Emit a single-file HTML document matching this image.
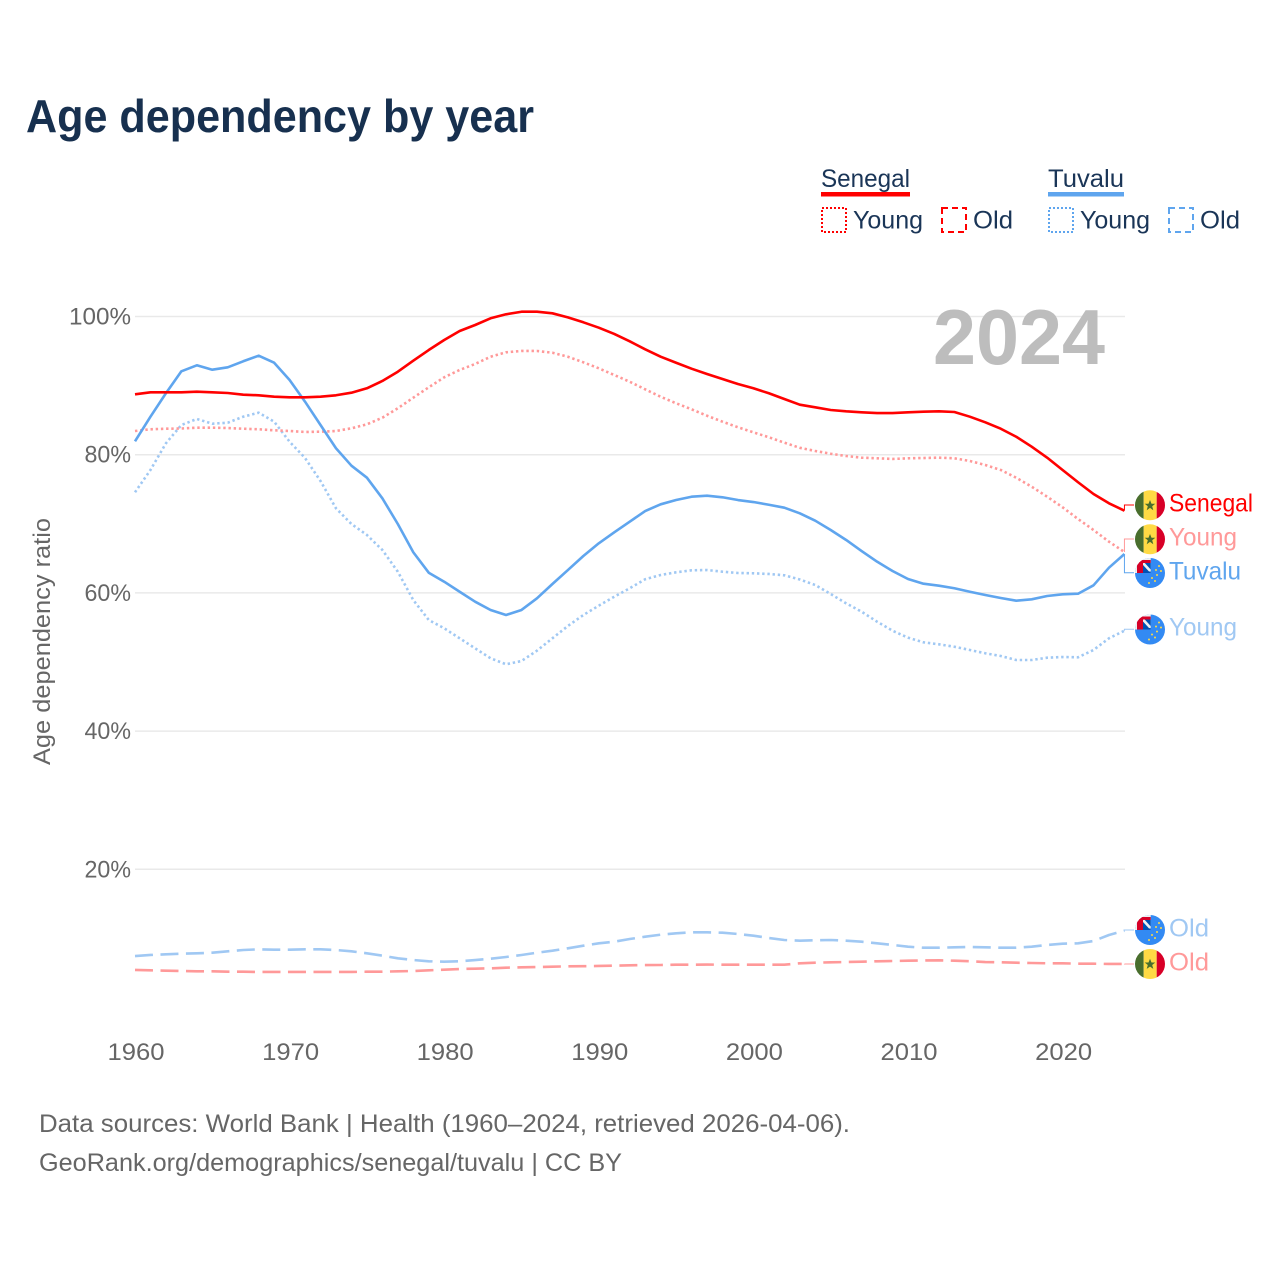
<!DOCTYPE html>
<html lang="en">
<head>
<meta charset="utf-8">
<title>Age dependency by year</title>
<style>
html,body{margin:0;padding:0;background:#fff;width:1280px;height:1280px;overflow:hidden}
svg{display:block}
text{font-family:"Liberation Sans",sans-serif}
</style>
</head>
<body>
<svg id="chart" xmlns="http://www.w3.org/2000/svg" width="1280" height="1280" viewBox="0 0 1280 1280">
<rect width="1280" height="1280" fill="#fff"/>
<text x="26" y="132" font-size="46" font-weight="700" fill="#17304f" textLength="508" lengthAdjust="spacingAndGlyphs">Age dependency by year</text>

<g font-size="25" fill="#1a3557">
<text x="821" y="187" textLength="89" lengthAdjust="spacingAndGlyphs">Senegal</text>
<rect x="821" y="192" width="89" height="4.5" fill="#ff0000"/>
<text x="1048" y="187" textLength="76" lengthAdjust="spacingAndGlyphs">Tuvalu</text>
<rect x="1048" y="192" width="76" height="4.5" fill="#5fa5ee"/>
<rect x="822" y="208" width="24" height="24" fill="none" stroke="#ff0000" stroke-width="2" stroke-dasharray="2 2"/>
<text x="853" y="228.5" textLength="70" lengthAdjust="spacingAndGlyphs">Young</text>
<rect x="942" y="208" width="24" height="24" fill="none" stroke="#ff0000" stroke-width="2" stroke-dasharray="6 4"/>
<text x="973" y="228.5" textLength="40" lengthAdjust="spacingAndGlyphs">Old</text>
<rect x="1049" y="208" width="24" height="24" fill="none" stroke="#5fa5ee" stroke-width="2" stroke-dasharray="2 2"/>
<text x="1080" y="228.5" textLength="70" lengthAdjust="spacingAndGlyphs">Young</text>
<rect x="1169" y="208" width="24" height="24" fill="none" stroke="#5fa5ee" stroke-width="2" stroke-dasharray="6 4"/>
<text x="1200" y="228.5" textLength="40" lengthAdjust="spacingAndGlyphs">Old</text>
</g>

<g id="grid"></g>
<g id="yticks"></g>
<g id="xticks"></g>
<text transform="translate(50,641.5) rotate(-90)" text-anchor="middle" font-size="24" fill="#666" textLength="247" lengthAdjust="spacingAndGlyphs">Age dependency ratio</text>
<text x="933" y="364" font-size="78" font-weight="700" fill="#bdbdbd" textLength="172" lengthAdjust="spacingAndGlyphs">2024</text>

<g id="series"></g>
<g id="connectors"></g>

<defs>
<clipPath id="c1"><circle cx="1150" cy="505.3" r="15"/></clipPath>
<clipPath id="c2"><circle cx="1150" cy="539.3" r="15"/></clipPath>
<clipPath id="c3"><circle cx="1150" cy="573" r="15"/></clipPath>
<clipPath id="c4"><circle cx="1150" cy="629.5" r="15"/></clipPath>
<clipPath id="c5"><circle cx="1150" cy="930" r="15"/></clipPath>
<clipPath id="c6"><circle cx="1150" cy="964" r="15"/></clipPath>
</defs>

<g clip-path="url(#c1)">
<rect x="1135" y="490" width="8.7" height="31" fill="#496e2d"/><rect x="1143.7" y="490" width="13" height="31" fill="#ffda44"/><rect x="1156.7" y="490" width="8.3" height="31" fill="#d80027"/>
<polygon points="1150,500 1151.5,503.8 1155.3,503.8 1152.2,506.3 1153.3,510.2 1150,507.9 1146.7,510.2 1147.8,506.3 1144.7,503.8 1148.5,503.8" fill="#496e2d"/>
</g>
<g clip-path="url(#c2)">
<rect x="1135" y="524" width="8.7" height="31" fill="#496e2d"/><rect x="1143.7" y="524" width="13" height="31" fill="#ffda44"/><rect x="1156.7" y="524" width="8.3" height="31" fill="#d80027"/>
<polygon points="1150,534 1151.5,537.8 1155.3,537.8 1152.2,540.3 1153.3,544.2 1150,541.9 1146.7,544.2 1147.8,540.3 1144.7,537.8 1148.5,537.8" fill="#496e2d"/>
</g>
<g clip-path="url(#c6)">
<rect x="1135" y="949" width="8.7" height="31" fill="#496e2d"/><rect x="1143.7" y="949" width="13" height="31" fill="#ffda44"/><rect x="1156.7" y="949" width="8.3" height="31" fill="#d80027"/>
<polygon points="1150,958.7 1151.5,962.5 1155.3,962.5 1152.2,965 1153.3,968.9 1150,966.6 1146.7,968.9 1147.8,965 1144.7,962.5 1148.5,962.5" fill="#496e2d"/>
</g>
<g clip-path="url(#c3)">
<rect x="1135" y="558" width="31" height="31" fill="#338af3"/>
<rect x="1135" y="558" width="15.7" height="15" fill="#f0f0f0"/><rect x="1137" y="560" width="6" height="13" fill="#d80027"/><rect x="1137" y="560" width="13.7" height="3" fill="#d80027"/><rect x="1143" y="563" width="7.7" height="10" fill="#0052b4"/><polygon points="1143,563 1144.8,563 1150.7,569.5 1150.7,571.5 1149,571.5 1143,565" fill="#f0f0f0"/>
<g fill="#ffda44"><circle cx="1159" cy="566" r="1"/><circle cx="1156" cy="570" r="1"/><circle cx="1161" cy="571" r="1"/><circle cx="1157" cy="575" r="1"/><circle cx="1152" cy="578" r="1"/><circle cx="1155" cy="581" r="1"/><circle cx="1149" cy="583" r="1"/></g>
</g>
<g clip-path="url(#c4)">
<rect x="1135" y="614" width="31" height="31" fill="#338af3"/>
<rect x="1135" y="614.5" width="15.7" height="15" fill="#f0f0f0"/><rect x="1137" y="616.5" width="6" height="13" fill="#d80027"/><rect x="1137" y="616.5" width="13.7" height="3" fill="#d80027"/><rect x="1143" y="619.5" width="7.7" height="10" fill="#0052b4"/><polygon points="1143,619.5 1144.8,619.5 1150.7,626 1150.7,628 1149,628 1143,621.5" fill="#f0f0f0"/>
<g fill="#ffda44"><circle cx="1159" cy="622.5" r="1"/><circle cx="1156" cy="626.5" r="1"/><circle cx="1161" cy="627.5" r="1"/><circle cx="1157" cy="631.5" r="1"/><circle cx="1152" cy="634.5" r="1"/><circle cx="1155" cy="637.5" r="1"/><circle cx="1149" cy="639.5" r="1"/></g>
</g>
<g clip-path="url(#c5)">
<rect x="1135" y="915" width="31" height="31" fill="#338af3"/>
<rect x="1135" y="915" width="15.7" height="15" fill="#f0f0f0"/><rect x="1137" y="917" width="6" height="13" fill="#d80027"/><rect x="1137" y="917" width="13.7" height="3" fill="#d80027"/><rect x="1143" y="920" width="7.7" height="10" fill="#0052b4"/><polygon points="1143,920 1144.8,920 1150.7,926.5 1150.7,928.5 1149,928.5 1143,922" fill="#f0f0f0"/>
<g fill="#ffda44"><circle cx="1159" cy="923" r="1"/><circle cx="1156" cy="927" r="1"/><circle cx="1161" cy="928" r="1"/><circle cx="1157" cy="932" r="1"/><circle cx="1152" cy="935" r="1"/><circle cx="1155" cy="938" r="1"/><circle cx="1149" cy="940" r="1"/></g>
</g>

<g font-size="25">
<text x="1169" y="511.5" fill="#ff0000" textLength="84" lengthAdjust="spacingAndGlyphs">Senegal</text>
<text x="1169" y="545.5" fill="#ff9999" textLength="68" lengthAdjust="spacingAndGlyphs">Young</text>
<text x="1169" y="579.5" fill="#5fa5ee" textLength="72" lengthAdjust="spacingAndGlyphs">Tuvalu</text>
<text x="1169" y="635.5" fill="#a0c8f3" textLength="68" lengthAdjust="spacingAndGlyphs">Young</text>
<text x="1169" y="936.5" fill="#a0c8f3" textLength="40" lengthAdjust="spacingAndGlyphs">Old</text>
<text x="1169" y="970.5" fill="#ff9999" textLength="40" lengthAdjust="spacingAndGlyphs">Old</text>
</g>

<g font-size="25" fill="#666">
<text x="39" y="1132" textLength="811" lengthAdjust="spacingAndGlyphs">Data sources: World Bank | Health (1960–2024, retrieved 2026-04-06).</text>
<text x="39" y="1171" textLength="583" lengthAdjust="spacingAndGlyphs">GeoRank.org/demographics/senegal/tuvalu | CC BY</text>
</g>
</svg>

<script>
const startYear = 1960;
const yTickValues = [20, 40, 60, 80, 100];
const yTickLabels = ["20%", "40%", "60%", "80%", "100%"];
const xTickValues = [1960, 1970, 1980, 1990, 2000, 2010, 2020];
const xTickLabels = ["1960", "1970", "1980", "1990", "2000", "2010", "2020"];

const senegalTotal = [88.74,89.03,89.03,89.03,89.12,89.03,88.93,88.68,88.60,88.39,88.31,88.31,88.39,88.60,88.97,89.61,90.67,92.01,93.60,95.15,96.60,97.90,98.77,99.74,100.32,100.69,100.69,100.46,99.88,99.16,98.38,97.47,96.41,95.25,94.18,93.31,92.45,91.68,90.95,90.23,89.61,88.89,88.06,87.24,86.86,86.47,86.28,86.14,86.03,86.03,86.14,86.22,86.28,86.18,85.50,84.69,83.76,82.60,81.16,79.57,77.79,76.01,74.31,72.97,71.90];
const senegalYoung = [83.43,83.68,83.76,83.79,83.91,83.91,83.86,83.76,83.68,83.53,83.43,83.29,83.33,83.43,83.82,84.40,85.35,86.72,88.25,89.75,91.20,92.26,93.13,94.18,94.82,95.01,95.01,94.76,94.18,93.37,92.50,91.53,90.56,89.46,88.39,87.44,86.57,85.64,84.78,83.97,83.24,82.52,81.74,81.00,80.54,80.14,79.81,79.57,79.48,79.38,79.48,79.52,79.57,79.48,79.09,78.51,77.79,76.67,75.37,73.92,72.39,70.69,69.10,67.41,65.92];
const senegalOld = [5.43,5.38,5.33,5.28,5.24,5.24,5.18,5.18,5.14,5.14,5.14,5.14,5.14,5.14,5.14,5.18,5.18,5.24,5.28,5.38,5.47,5.57,5.62,5.67,5.76,5.82,5.86,5.90,5.96,5.98,6.01,6.05,6.11,6.14,6.15,6.19,6.19,6.22,6.19,6.19,6.19,6.19,6.19,6.40,6.48,6.54,6.58,6.63,6.69,6.73,6.77,6.80,6.83,6.77,6.69,6.58,6.54,6.48,6.44,6.40,6.40,6.34,6.34,6.30,6.30];
const tuvaluTotal = [81.94,85.50,88.89,92.07,92.94,92.30,92.65,93.52,94.33,93.31,90.81,87.67,84.30,80.93,78.41,76.67,73.69,69.97,65.88,62.92,61.62,60.17,58.73,57.53,56.80,57.53,59.22,61.29,63.31,65.34,67.18,68.77,70.30,71.85,72.82,73.44,73.92,74.07,73.84,73.44,73.15,72.76,72.33,71.52,70.45,69.10,67.66,66.06,64.52,63.17,62.01,61.33,61.04,60.67,60.17,59.70,59.26,58.87,59.07,59.55,59.80,59.88,61.10,63.65,65.63];
const tuvaluYoung = [74.56,77.79,81.65,84.30,85.17,84.49,84.63,85.50,86.08,84.78,81.88,79.52,76.19,72.24,69.97,68.38,66.21,63.07,58.97,56.08,54.88,53.43,51.98,50.54,49.67,50.14,51.64,53.43,55.21,56.80,58.15,59.45,60.67,61.97,62.59,62.98,63.27,63.31,63.07,62.88,62.84,62.74,62.55,61.94,61.14,59.84,58.49,57.28,55.83,54.53,53.52,52.85,52.56,52.21,51.74,51.26,50.87,50.29,50.29,50.62,50.72,50.68,51.74,53.43,54.53];
const tuvaluOld = [7.45,7.60,7.70,7.79,7.84,7.93,8.13,8.32,8.42,8.36,8.36,8.42,8.42,8.32,8.13,7.84,7.50,7.12,6.87,6.69,6.63,6.69,6.87,7.06,7.31,7.60,7.93,8.22,8.57,8.94,9.29,9.52,9.91,10.25,10.54,10.74,10.88,10.88,10.82,10.64,10.39,10.06,9.77,9.67,9.73,9.77,9.67,9.52,9.29,9.05,8.80,8.65,8.65,8.71,8.76,8.71,8.65,8.65,8.80,9.05,9.23,9.29,9.62,10.49,11.11];

const NS = "http://www.w3.org/2000/svg";
function xScale(year) { return 135 + (year - 1960) * 15.46; }
function yScale(pct) { return 1007.5 - pct * 6.91; }
function make(tag, attrs, parent) {
  const el = document.createElementNS(NS, tag);
  for (const k in attrs) el.setAttribute(k, attrs[k]);
  parent.appendChild(el);
  return el;
}
const gridG = document.getElementById("grid");
const yTickG = document.getElementById("yticks");
const xTickG = document.getElementById("xticks");
const seriesG = document.getElementById("series");
const connG = document.getElementById("connectors");

yTickValues.forEach(function (v, i) {
  const line = make("line", { x1: 135, x2: 1125, y1: yScale(v), y2: yScale(v), stroke: "#e9e9e9", "stroke-width": 1.5 }, gridG);
  
  
  const t = make("text", { x: 131, y: yScale(v) + 8, "text-anchor": "end", "font-size": 24, fill: "#666", textLength: yTickLabels[i].length * 15.5, lengthAdjust: "spacingAndGlyphs" }, yTickG);
  
  
  t.textContent = yTickLabels[i];
});
xTickValues.forEach(function (v, i) {
  const t = make("text", { x: xScale(v) + 1, y: 1060, "text-anchor": "middle", "font-size": 24, fill: "#666", textLength: 57, lengthAdjust: "spacingAndGlyphs" }, xTickG);
  
  
  t.textContent = xTickLabels[i];
});
function drawSeries(values, name, color, dash) {
  const d = values.map(function (v, i) {
    return (i ? "L" : "M") + xScale(startYear + i).toFixed(2) + " " + yScale(v).toFixed(2);
  }).join(" ");
  const p = make("path", { d: d, fill: "none", stroke: color, "stroke-width": dash ? 2.6 : 2.6, "stroke-linejoin": "round" }, seriesG);
  if (dash) p.setAttribute("stroke-dasharray", dash);
  
  
}
const DOT = "2.4 2.8";
const DASH = "18 7.5";
drawSeries(senegalOld, "line-senegal-old", "#ff9999", DASH);
drawSeries(tuvaluOld, "line-tuvalu-old", "#a0c8f3", DASH);
drawSeries(tuvaluYoung, "line-tuvalu-young", "#a0c8f3", DOT);
drawSeries(senegalYoung, "line-senegal-young", "#ff9999", DOT);
drawSeries(tuvaluTotal, "line-tuvalu-total", "#5fa5ee", null);
drawSeries(senegalTotal, "line-senegal-total", "#ff0000", null);

function drawConnector(values, labelY, color) {
  const x0 = xScale(2024);
  const y0 = yScale(values[values.length - 1]);
  const p = make("path", { d: "M" + x0 + " " + y0 + " V" + labelY + " H1134", fill: "none", stroke: color, "stroke-width": 1 }, connG);
  
  
}
drawConnector(senegalTotal, 505, "#ff0000");
drawConnector(senegalYoung, 539, "#ff9999");
drawConnector(tuvaluTotal, 572.7, "#5fa5ee");
drawConnector(tuvaluYoung, 629.3, "#a0c8f3");
drawConnector(tuvaluOld, 930, "#a0c8f3");
drawConnector(senegalOld, 964, "#ff9999");
</script>
</body>
</html>
